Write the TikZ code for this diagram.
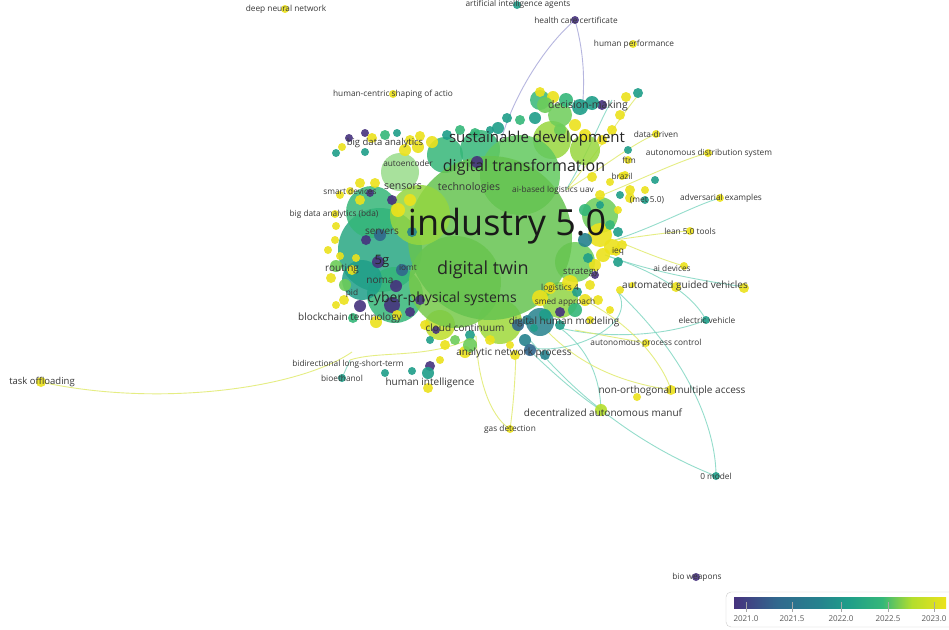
\documentclass[tikz,border=0pt]{standalone}
\usepackage{fontspec}
\setmainfont{Open Sans}
\definecolor{vA}{RGB}{70,50,126}
\definecolor{vB}{RGB}{62,74,137}
\definecolor{vC}{RGB}{49,104,142}
\definecolor{vD}{RGB}{38,130,142}
\definecolor{vE}{RGB}{31,158,137}
\definecolor{vF}{RGB}{53,183,121}
\definecolor{vG}{RGB}{109,205,89}
\definecolor{vH}{RGB}{180,222,44}
\definecolor{vI}{RGB}{236,226,28}
\definecolor{gmain}{RGB}{102,196,80}
\definecolor{lbltext}{RGB}{55,55,55}
\definecolor{edgeteal}{RGB}{130,215,195}
\definecolor{edgeyel}{RGB}{225,235,110}
\definecolor{edgelav}{RGB}{175,175,220}
\pgfdeclarehorizontalshading{viridis}{100bp}{color(0bp)=(vA); color(25bp)=(vA); color(35bp)=(vC); color(45bp)=(vD); color(52bp)=(vE); color(60bp)=(vF); color(67bp)=(vH); color(75bp)=(vI); color(100bp)=(vI)}
\tikzset{
  lbl/.style={text=lbltext, inner sep=0pt},
  small/.style={lbl, font=\fontsize{8.3}{9}\selectfont},
  mid/.style={lbl, font=\fontsize{10}{11}\selectfont},
  edgeT/.style={draw=edgeteal, line width=0.9pt, opacity=0.85},
  edgeY/.style={draw=edgeyel, line width=0.9pt, opacity=0.85},
  edgeL/.style={draw=edgelav, line width=0.9pt, opacity=0.9},
  dot/.style={opacity=0.9}
}
\begin{document}
\begin{tikzpicture}[x=1pt,y=-1pt]
\useasboundingbox (0,0) rectangle (949,629);
\fill[white] (0,0) rectangle (949,629);

% ---------- named coordinates of keyword dots ----------
\coordinate (taskoff) at (41,382);
\coordinate (health) at (575,20);
\coordinate (zeromodel) at (716,476);
\coordinate (elecveh) at (706,320);
\coordinate (gasdet) at (510,429);
\coordinate (decent) at (601,410);
\coordinate (nonorth) at (671,390);
\coordinate (autoproc) at (646,343);
\coordinate (bioeth) at (342,378);
\coordinate (autodist) at (708,153);
\coordinate (datadriven) at (656,134);
\coordinate (adversarial) at (720,198);
\coordinate (aidev) at (684,266);
\coordinate (agv) at (744,287);
\coordinate (lean) at (690,231);
\coordinate (c1) at (352,352);
\coordinate (c2) at (497,158);
\coordinate (c3) at (582,112);
\coordinate (c4) at (530,340);
\coordinate (c5) at (618,292);
\coordinate (c6) at (560,328);
\coordinate (c7) at (476,336);
\coordinate (c8) at (516,350);
\coordinate (c9) at (524,345);
\coordinate (c10) at (588,302);
\coordinate (c11) at (600,196);
\coordinate (c12) at (615,240);
\coordinate (c13) at (575,330);
\coordinate (c14) at (350,360);
\coordinate (c15) at (548,332);
\coordinate (c16) at (566,190);
\coordinate (c17) at (605,255);
\coordinate (c18) at (640,93);
\coordinate (c19) at (612,100);

% ---------- connectors ----------
\draw[edgeY] (taskoff) .. controls (160,408) and (300,388) .. (c1);
\draw[edgeL] (health) .. controls (540,50) and (505,110) .. (c2);
\draw[edgeL] (health) .. controls (586,60) and (584,90) .. (c3);
\draw[edgeT] (c4) .. controls (600,425) and (680,462) .. (zeromodel);
\draw[edgeT] (c5) .. controls (690,360) and (716,430) .. (zeromodel);
\draw[edgeT] (c6) .. controls (610,340) and (670,335) .. (elecveh);
\draw[edgeT] (c17) .. controls (650,270) and (690,290) .. (elecveh);
\draw[edgeY] (c7) .. controls (478,390) and (495,420) .. (gasdet);
\draw[edgeY] (c8) .. controls (515,390) and (512,415) .. (gasdet);
\draw[edgeT] (c9) .. controls (560,380) and (585,400) .. (decent);
\draw[edgeT] (c6) .. controls (590,350) and (600,380) .. (decent);
\draw[edgeY] (c10) .. controls (640,330) and (665,370) .. (nonorth);
\draw[edgeY] (c15) .. controls (590,375) and (640,385) .. (nonorth);
\draw[edgeY] (c13) .. controls (600,335) and (630,340) .. (autoproc);
\draw[edgeT] (c14) -- (bioeth);
\draw[edgeY] (c11) .. controls (640,180) and (680,160) .. (autodist);
\draw[edgeY] (c16) .. controls (600,170) and (630,145) .. (datadriven);
\draw[edgeT] (c12) .. controls (660,225) and (695,205) .. (adversarial);
\draw[edgeY] (c12) .. controls (650,255) and (670,262) .. (aidev);
\draw[edgeT] (c17) .. controls (660,275) and (720,283) .. (agv);
\draw[edgeY] (c12) .. controls (650,235) and (670,232) .. (lean);
\draw[edgeY] (c16) .. controls (600,150) and (625,110) .. (c18);
\draw[edgeT] (c16) .. controls (590,150) and (600,120) .. (c19);
\draw[edgeT] (c9) .. controls (555,360) and (640,330) .. (c5);
\draw[edgeY] (c7) .. controls (430,360) and (380,350) .. (c14);

% ---------- big background circles ----------
\foreach \x/\y/\r/\c in {
 380/250/42/vE!60!vF, 372/212/26/vF, 395/295/28/vF, 362/280/20/vE,
 400/172/19/vG!70!white, 445/155/18/vF, 480/150/20/vF,
 552/140/19/vH!60!vG, 585/150/15/vH!60!vG, 560/115/12/vG, 540/100/10/vF,
 520/175/40/vG!80!vF, 575/262/20/vG, 560/300/18/vH!50!vG,
 500/322/22/vH!70!vG, 440/325/15/vH!80!vI, 600/215/18/vG,
 455/282/46/gmain!80!vH, 490/238/82/gmain, 420/215/30/vH!55!vG,
 540/322/14/vD}
 {\fill[\c, opacity=0.85] (\x,\y) circle (\r);}

% ---------- small and medium dots ----------
\foreach \x/\y/\r/\c in {
 349/138/4/vA, 365/133/4/vA, 372/138/5/vI, 385/135/5/vF, 397/133/4/vE,
 410/140/5/vI, 420/136/5/vI, 432/142/6/vI, 447/135/5/vE, 460/130/5/vF,
 475/133/5/vF, 490/130/4/vE, 365/152/4/vE, 336/153/4/vE, 342/147/4/vI,
 360/183/5/vI, 370/193/4/vA, 340/195/4/vI, 336/226/4/vI, 335/240/4/vI,
 328/250/4/vI, 340/256/4/vI, 331/278/5/vI, 336/266/6/vG, 344/300/5/vI,
 336/305/4/vI, 345/285/6/vG, 360/306/6/vA, 392/305/8/vA, 353/318/5/vF,
 376/322/6/vI, 397/315/5/vI, 410/312/5/vA, 425/325/5/vI, 436/330/4/vA,
 430/340/4/vE, 445/345/5/vI, 455/340/5/vG, 470/335/5/vE, 490/340/5/vI,
 510/345/4/vI, 525/340/6/vD, 530/350/6/vC, 545/355/5/vD, 515/355/5/vI,
 465/352/6/vI, 470/345/7/vG, 440/360/4/vI, 430/366/5/vA, 428/373/6/vE,
 428/388/5/vI, 412/371/4/vE, 385/373/4/vE,
 600/235/12/vI, 612/247/8/vI, 603/255/7/vI, 622/245/5/vI, 595/265/6/vI,
 618/262/5/vE, 590/285/5/vI, 585/300/6/vI, 598/300/5/vI, 575/310/7/vF,
 560/312/5/vA, 545/315/6/vE, 560/325/5/vE, 590/320/4/vI, 610/310/4/vI,
 620/290/4/vI, 632/285/3/vI, 600/195/5/vI, 592/177/5/vI, 610/182/4/vI,
 625/175/4/vI, 618/210/4/vI, 600/205/4/vE, 585/210/6/vF, 610/225/5/vF,
 618/232/5/vE, 630/198/5/vI, 602/140/5/vI, 612/130/5/vI, 620/115/5/vI,
 638/93/5/vE, 626/97/5/vI, 602/105/5/vA, 592/103/7/vE, 580/107/8/vE,
 566/100/7/vF, 553/97/6/vI, 540/92/5/vI, 545/105/8/vG, 535/118/6/vE,
 520/120/5/vF, 507/118/5/vE, 498/128/6/vE, 560/130/6/vG, 575/125/6/vI,
 585/135/6/vI, 628/150/4/vE, 645/190/4/vI, 630/190/5/vI, 655/180/4/vE,
 527/320/5/vD, 518/325/6/vC, 534/328/4/vE, 405/150/6/vI, 418/147/6/vI,
 477/162/6/vA, 392/200/5/vA, 398/210/7/vI, 410/200/6/vI, 378/262/6/vA,
 366/240/5/vA, 396/286/6/vA, 402/270/6/vC, 420/300/5/vA, 380/235/6/vC,
 412/232/5/vD, 352/270/5/vI, 356/258/4/vI, 360/200/5/vI, 375/183/5/vI,
 620/195/4/vE, 585/240/7/vD, 588/258/5/vE, 570/283/8/vI, 595/275/4/vA,
 540/298/8/vI, 550/288/6/vI, 577/292/5/vE}
 {\fill[\c, dot] (\x,\y) circle (\r);}

% ---------- labelled keyword dots ----------
\foreach \x/\y/\r/\c in {
 285/9/4/vI, 517/5/4/vE, 575/20/4/vA, 633/44/4/vI, 393/94/4/vI,
 656/134/4/vI, 708/153/4/vI, 628/160/4/vI, 622/176/4/vI, 350/191/4/vI,
 645/200/4/vE, 720/198/4/vI, 335/214/4/vI, 690/231/4/vI, 616/251/5/vI,
 684/266/4/vI, 676/287/5/vI, 744/288/5/vI, 706/320/4/vE, 646/343/4/vI,
 342/378/4/vE, 41/382/5/vI, 671/390/5/vI, 637/397/4/vI, 601/410/6/vH,
 510/429/4/vI, 716/476/4/vE, 696/577/4/vA}
 {\fill[\c, dot] (\x,\y) circle (\r);}

% ---------- labels ----------
\node[small] (l1) at (286,9) {deep neural network};
\node[small] (l2) at (518,4) {artificial intelligence agents};
\node[small] (l3) at (576,20) {health care certificate};
\node[small] (l4) at (634,44) {human performance};
\node[small] (l5) at (393,94) {human-centric shaping of actio};
\node[small] (l6) at (656,134) {data-driven};
\node[small] (l7) at (709,153) {autonomous distribution system};
\node[small] (l8) at (408,163) {autoencoder};
\node[small] (l9) at (629,160) {ftm};
\node[small] (l10) at (622,176) {brazil};
\node[small] (l11) at (350,191) {smart devices};
\node[small] (l12) at (553,190) {ai-based logistics uav};
\node[small] (l13) at (647,200) {(met 5.0)};
\node[small] (l14) at (721,198) {adversarial examples};
\node[small] (l15) at (334,214) {big data analytics (bda)};
\node[small] (l16) at (690,231) {lean 5.0 tools};
\node[small] (l17) at (618,251) {ieq};
\node[small] (l18) at (408,267) {iomt};
\node[small] (l19) at (672,268) {ai devices};
\node[small] (l20) at (560,288) {logistics 4};
\node[small] (l21) at (352,293) {pid};
\node[small] (l22) at (565,302) {smed approach};
\node[small] (l23) at (707,320) {electric vehicle};
\node[small] (l24) at (646,343) {autonomous process control};
\node[small] (l25) at (348,364) {bidirectional long-short-term};
\node[small] (l26) at (342,378) {bioethanol};
\node[small] (l27) at (510,429) {gas detection};
\node[small] (l28) at (716,476) {0 model};
\node[small] (l29) at (697,577) {bio weapons};

\node[mid, font=\fontsize{10.5}{12}\selectfont] (m1) at (588,106) {decision-making};
\node[mid, font=\fontsize{9.5}{11}\selectfont] (m2) at (385,143) {big data analytics};
\node[mid, font=\fontsize{10.5}{12}\selectfont] (m3) at (403,187) {sensors};
\node[mid, font=\fontsize{10.5}{12}\selectfont] (m4) at (469,188) {technologies};
\node[mid] (m5) at (382,232) {servers};
\node[mid] (m6) at (342,269) {routing};
\node[mid, font=\fontsize{9.5}{11}\selectfont] (m7) at (581,273) {strategy};
\node[mid] (m8) at (380,281) {noma};
\node[mid] (m9) at (685,286) {automated guided vehicles};
\node[mid] (m10) at (350,318) {blockchain technology};
\node[mid] (m11) at (564,322) {digital human modeling};
\node[mid] (m12) at (465,328) {cloud continuum};
\node[mid] (m13) at (514,353) {analytic network process};
\node[mid] (m14) at (430,383) {human intelligence};
\node[mid, font=\fontsize{9.5}{11}\selectfont] (m15) at (42,382) {task offloading};
\node[mid] (m16) at (672,391) {non-orthogonal multiple access};
\node[mid] (m17) at (603,413) {decentralized autonomous manuf};

\node[lbl, text=black!90, font=\fontsize{36}{40}\selectfont] (b1) at (507,226) {industry 5.0};
\node[lbl, text=black!85, font=\fontsize{18}{20}\selectfont] (b2) at (483,270) {digital twin};
\node[lbl, text=black!85, font=\fontsize{15}{17}\selectfont] (b3) at (537,139) {sustainable development};
\node[lbl, text=black!85, font=\fontsize{16}{18}\selectfont] (b4) at (524,167) {digital transformation};
\node[lbl, text=black!85, font=\fontsize{14}{16}\selectfont] (b5) at (442,299) {cyber-physical systems};
\node[lbl, text=black!85, font=\fontsize{13}{15}\selectfont] (b6) at (382,261) {5g};

% ---------- colour legend ----------
\draw[black!20, fill=white, rounded corners=5pt] (726,592) rectangle (955,627);
\shade[shading=viridis] (734,597) rectangle (946,608);
\foreach \tx/\tl in {746/2021.0, 792/2021.5, 841/2022.0, 888/2022.5, 934/2023.0}{
  \draw[black!35, line width=0.6pt] (\tx,602) -- (\tx,612);
  \node[lbl, font=\fontsize{8}{9}\selectfont, text=black!65] at (\tx,618.5) {\tl};
}
\end{tikzpicture}
\end{document}
